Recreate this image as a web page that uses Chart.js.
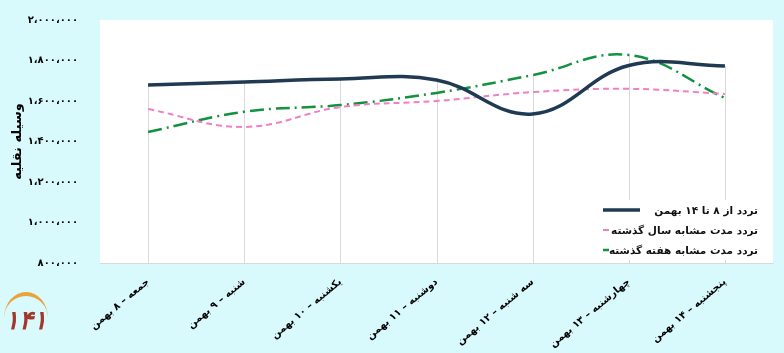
<!DOCTYPE html>
<html>
<head>
<meta charset="utf-8">
<script src="https://cdn.jsdelivr.net/npm/chart.js@4.4.1/dist/chart.umd.min.js"></script>
<style>
  html, body { margin: 0; padding: 0; background: #d9fafd; }
  #wrap { position: relative; width: 784px; height: 353px; }
  #legend {
    position: absolute; left: 600px; top: 200px; width: 158px;
    background: #fff; font: bold 10.5px "DejaVu Sans", sans-serif; color: #111;
  }
  #legend .row { display: flex; align-items: center; height: 20px; }
  #legend .row span { flex: 1; text-align: right; direction: rtl; white-space: nowrap; }
  #logo {
    position: absolute; left: 4px; top: 292px; width: 44px; height: 48px;
    font: italic bold 26px "DejaVu Sans", sans-serif; color: #a3372b;
    text-align: center; line-height: 48px;
    border-top: 4px solid #e8a33a; border-radius: 50% 50% 0 0;
  }
</style>
</head>
<body>
<div id="wrap">
  <canvas id="c" width="784" height="353"></canvas>
  <div id="legend"></div>
  <div id="logo">۱۴۱</div>
</div>
<script>
const categories = [
  "جمعه – ۸ بهمن",
  "شنبه – ۹ بهمن",
  "یکشنبه – ۱۰ بهمن",
  "دوشنبه – ۱۱ بهمن",
  "سه شنبه – ۱۲ بهمن",
  "چهارشنبه – ۱۳ بهمن",
  "پنجشنبه – ۱۴ بهمن"
];
const seriesNames = [
  "تردد از ۸ تا ۱۴ بهمن",
  "تردد مدت مشابه سال گذشته",
  "تردد مدت مشابه هفته گذشته"
];
const thisWeek = [1679000, 1694000, 1709000, 1704000, 1536000, 1775000, 1773000];
const lastYear = [1560000, 1472000, 1570000, 1600000, 1644000, 1660000, 1635000];
const lastWeek = [1447000, 1547000, 1580000, 1640000, 1728000, 1827000, 1615000];
const yTickLabels = {
  800000: "۸۰۰،۰۰۰",
  1000000: "۱،۰۰۰،۰۰۰",
  1200000: "۱،۲۰۰،۰۰۰",
  1400000: "۱،۴۰۰،۰۰۰",
  1600000: "۱،۶۰۰،۰۰۰",
  1800000: "۱،۸۰۰،۰۰۰",
  2000000: "۲،۰۰۰،۰۰۰"
};
const yTitle = "وسیله نقلیه";

const colors = ["#1f3a52", "#f07fc4", "#13913f"];
const dashes = [[], [6, 4], [14, 5, 2, 5]];
const widths = [3.5, 2, 2.5];

// white plot area + drop lines from the highest point
const plotBg = {
  id: "plotBg",
  beforeDraw(chart) {
    const { ctx, chartArea: a } = chart;
    ctx.save();
    ctx.fillStyle = "#fff";
    ctx.fillRect(a.left, a.top, a.right - a.left, a.bottom - a.top);
    ctx.restore();
  },
  beforeDatasetsDraw(chart) {
    const { ctx, chartArea: a } = chart;
    const metas = chart.data.datasets.map((d, i) => chart.getDatasetMeta(i));
    ctx.save();
    ctx.strokeStyle = "#d9d9d9";
    ctx.lineWidth = 1;
    metas[0].data.forEach((pt, j) => {
      const top = Math.min(...metas.map(m => m.data[j].y));
      const x = Math.round(pt.x) + 0.5;
      ctx.beginPath();
      ctx.moveTo(x, top);
      ctx.lineTo(x, a.bottom);
      ctx.stroke();
    });
    ctx.restore();
  }
};

const chart = new Chart(document.getElementById("c"), {
  type: "line",
  data: {
    labels: categories,
    datasets: [thisWeek, lastYear, lastWeek].map((d, i) => ({
      label: seriesNames[i],
      data: d,
      borderColor: colors[i],
      borderWidth: widths[i],
      borderDash: dashes[i],
      pointRadius: 0,
      tension: 0.4,
      fill: false
    }))
  },
  options: {
    responsive: false,
    animation: false,
    layout: { padding: { top: 20, right: 11, left: 0, bottom: 0 } },
    plugins: { legend: { display: false }, tooltip: { enabled: false } },
    scales: {
      x: {
        offset: true,
        grid: { display: false },
        border: { display: true, color: "#d9d9d9" },
        ticks: {
          minRotation: 40, maxRotation: 40, autoSkip: false,
          color: "#000", padding: 5,
          font: { family: "DejaVu Sans", weight: "bold", size: 10 }
        },
        afterFit(s) { s.height = 90; }
      },
      y: {
        min: 800000, max: 2000000,
        grid: { display: false },
        border: { display: false },
        ticks: {
          stepSize: 200000, color: "#000", padding: 14,
          font: { family: "DejaVu Sans", weight: "bold", size: 10 },
          callback: v => yTickLabels[v]
        },
        title: {
          display: true, text: yTitle, color: "#000",
          padding: { top: 10, bottom: 4 },
          font: { family: "DejaVu Sans", weight: "bold", size: 13 }
        },
        afterFit(s) { s.width = 100; }
      }
    }
  },
  plugins: [plotBg]
});

// legend in the lower right of the plot
const legend = document.getElementById("legend");
chart.data.datasets.forEach((ds, i) => {
  const row = document.createElement("div");
  row.className = "row";
  const dash = ds.borderDash.length ? ds.borderDash.join(",") : "none";
  row.innerHTML =
    `<svg width="42" height="8"><line x1="3" y1="4" x2="40" y2="4" stroke="${ds.borderColor}" stroke-width="${ds.borderWidth}" stroke-dasharray="${dash}"/></svg>` +
    `<span>${ds.label}</span>`;
  legend.appendChild(row);
});
</script>
</body>
</html>
